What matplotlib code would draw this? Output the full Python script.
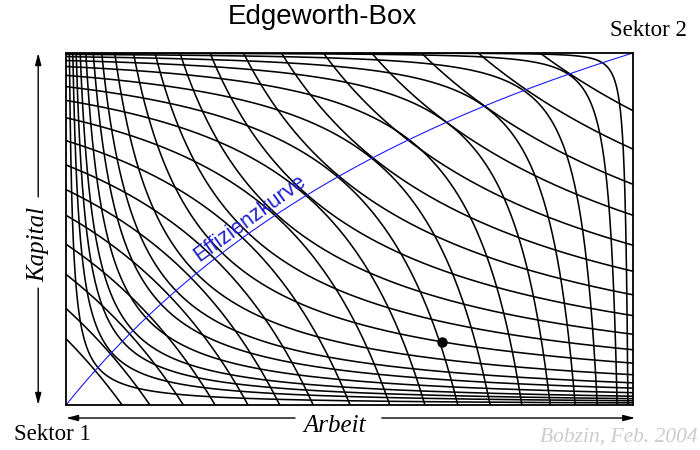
import numpy as np
import matplotlib.pyplot as plt

# Produktionsfunktionen Q = L^a * K^(1-a), Arbeit und Kapital auf die Box normiert
ALPHA_1 = 0.5      # Arbeitsexponent Sektor 1 (Ursprung unten links)
ALPHA_2 = 2 / 3    # Arbeitsexponent Sektor 2 (Ursprung oben rechts)

# wo die Isoquanten von Sektor 1 den oberen Rand treffen (Anteil Arbeit)
sektor1_oben = [0.836, 0.727, 0.627, 0.539, 0.454, 0.380, 0.313, 0.254, 0.201, 0.157,
                0.119, 0.086, 0.063, 0.048, 0.035, 0.025, 0.018, 0.012, 0.006]
# wo die Isoquanten von Sektor 2 den unteren Rand treffen (Anteil Arbeit)
sektor2_unten = [0.099, 0.148, 0.207, 0.263, 0.321, 0.377, 0.436, 0.501, 0.571, 0.633,
                 0.691, 0.748, 0.804, 0.854, 0.898, 0.937, 0.972, 0.991]

punkt_arbeit = 0.663
punkt_kapital = 0.179

W, H = 700, 450


def fx(px):
    return px / W


def fy(py):
    return 1 - py / H


fig = plt.figure(figsize=(7, 4.5), dpi=100)
ax = fig.add_axes([66 / W, 45 / H, 567 / W, 352 / H])

a, b = ALPHA_1, ALPHA_2

# Isoquanten Sektor 1
for u_top in sektor1_oben:
    q = u_top ** a
    u = np.geomspace(u_top, 1, 500)
    v = (q / u ** a) ** (1 / (1 - a))
    ax.plot(u, v, color='black', lw=1.15)

# Isoquanten Sektor 2
for u_bot in sektor2_unten:
    q = (1 - u_bot) ** b
    s = np.geomspace(1 - u_bot, 1, 500)
    t = (q / s ** b) ** (1 / (1 - b))
    ax.plot(1 - s, 1 - t, color='black', lw=1.15)

# Effizienzkurve (Grenzraten der Substitution gleich)
r = (b / (1 - b)) / (a / (1 - a))
u = np.linspace(0, 1, 400)
v = r * u / (1 - u + r * u)
ax.plot(u, v, color='#1a1aff', lw=0.8)

u0 = 0.335
v0 = r * u0 / (1 - u0 + r * u0)
ax.text(u0, v0 + 0.005, 'Effizienzkurve', color='#2020d0', fontsize=15.5,
        family='Liberation Sans', rotation=36, rotation_mode='anchor',
        ha='center', va='bottom')

ax.plot([punkt_arbeit], [punkt_kapital], 'o', color='black', markersize=6.5)

ax.set_xlim(0, 1)
ax.set_ylim(0, 1)
ax.set_xticks([])
ax.set_yticks([])
for sp in ax.spines.values():
    sp.set_linewidth(1.3)
    sp.set_color('black')

# Pfeile
pfeil = dict(arrowstyle='-|>,head_length=0.7,head_width=0.18', lw=1.0, color='black',
             shrinkA=0, shrinkB=0)
ax.annotate('', xy=(0.0, -0.037), xytext=(0.404, -0.037), xycoords='axes fraction',
            arrowprops=pfeil)
ax.annotate('', xy=(1.004, -0.037), xytext=(0.557, -0.037), xycoords='axes fraction',
            arrowprops=pfeil)
ax.annotate('', xy=(-0.049, 1.0), xytext=(-0.049, 0.591), xycoords='axes fraction',
            arrowprops=pfeil)
ax.annotate('', xy=(-0.049, 0.0), xytext=(-0.049, 0.332), xycoords='axes fraction',
            arrowprops=pfeil)

# Beschriftungen
fig.text(fx(322), fy(24), 'Edgeworth-Box', family='Liberation Sans', fontsize=20,
         ha='center', va='baseline')
fig.text(fx(648), fy(36), 'Sektor 2', family='Liberation Serif', fontsize=16.5,
         ha='center', va='baseline')
fig.text(fx(52), fy(440), 'Sektor 1', family='Liberation Serif', fontsize=16.5,
         ha='center', va='baseline')
fig.text(fx(335), fy(432), 'Arbeit', family='Liberation Serif', style='italic',
         fontsize=18, ha='center', va='baseline')
fig.text(fx(38), fy(244), 'Kapital', family='Liberation Serif', style='italic',
         fontsize=18, ha='center', va='center', rotation=90)
fig.text(fx(698), fy(442), 'Bobzin, Feb. 2004', family='Liberation Serif', style='italic',
         fontsize=15.5, color='#cccccc', ha='right', va='baseline')

fig.savefig('out.png', dpi=100)
